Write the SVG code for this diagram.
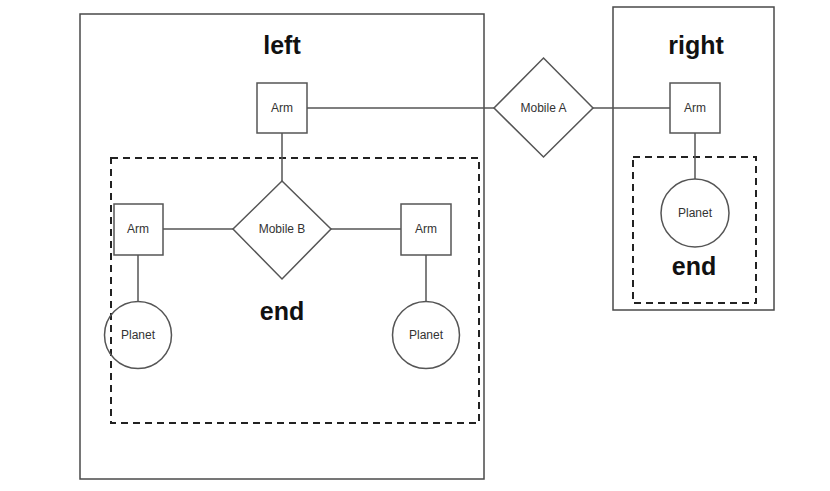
<svg xmlns="http://www.w3.org/2000/svg" width="830" height="491" viewBox="0 0 830 491">
<style>
.frame{fill:none;stroke:#4a4a4a;stroke-width:1.5}
.dash{fill:none;stroke:#222;stroke-width:2;stroke-dasharray:7 5}
.shape{fill:#fff;stroke:#555;stroke-width:1.5}
.conn{stroke:#555;stroke-width:1.5;fill:none}
.lbl{font-family:"Liberation Sans",Arial,sans-serif;font-size:12px;fill:#333;text-anchor:middle;dominant-baseline:central}
.title{font-family:"Liberation Sans",Arial,sans-serif;font-size:25px;font-weight:bold;fill:#111;text-anchor:middle}
</style>
<rect width="830" height="491" fill="#fff"/>
<g id="left-frame">
<rect class="frame" x="80" y="14" width="404" height="465"/>
<text class="title" x="282" y="54">left</text>
</g>
<g id="left-end">
<rect class="dash" x="111" y="158" width="368" height="265"/>
<text class="title" x="282" y="320">end</text>
</g>
<g id="right-frame">
<rect class="frame" x="613" y="7" width="161" height="303"/>
<text class="title" x="696" y="54">right</text>
</g>
<g id="right-end">
<rect class="dash" x="633" y="157" width="123" height="146"/>
<text class="title" x="694" y="275">end</text>
</g>
<g id="connectors">
<line class="conn" x1="307" y1="108" x2="494" y2="108"/>
<line class="conn" x1="593" y1="108" x2="670" y2="108"/>
<line class="conn" x1="282" y1="133" x2="282" y2="181"/>
<line class="conn" x1="163" y1="229" x2="233" y2="229"/>
<line class="conn" x1="331" y1="229" x2="401" y2="229"/>
<line class="conn" x1="138" y1="255" x2="138" y2="301"/>
<line class="conn" x1="426" y1="255" x2="426" y2="301"/>
<line class="conn" x1="695" y1="133" x2="695" y2="179"/>
</g>
<g id="arm-top">
<rect class="shape" x="257" y="83" width="50" height="50"/>
<text class="lbl" x="282" y="108">Arm</text>
</g>
<g id="mobile-a">
<polygon class="shape" points="543.5,58 593,108 543.5,157 494,108"/>
<text class="lbl" x="543.5" y="108">Mobile A</text>
</g>
<g id="arm-right">
<rect class="shape" x="670" y="83" width="50" height="50"/>
<text class="lbl" x="695" y="108">Arm</text>
</g>
<g id="mobile-b">
<polygon class="shape" points="282,181 331,229 282,279 233,229"/>
<text class="lbl" x="282" y="229">Mobile B</text>
</g>
<g id="arm-left">
<rect class="shape" x="114" y="204" width="49" height="51"/>
<text class="lbl" x="138" y="229">Arm</text>
</g>
<g id="arm-mid">
<rect class="shape" x="401" y="204" width="50" height="51"/>
<text class="lbl" x="426" y="229">Arm</text>
</g>
<g id="planet-left">
<circle class="shape" cx="138" cy="335" r="33.5" style="fill:none"/>
<text class="lbl" x="138" y="335">Planet</text>
</g>
<g id="planet-mid">
<circle class="shape" cx="426" cy="335" r="33.5"/>
<text class="lbl" x="426" y="335">Planet</text>
</g>
<g id="planet-right">
<circle class="shape" cx="695" cy="213" r="34"/>
<text class="lbl" x="695" y="213">Planet</text>
</g>
</svg>
